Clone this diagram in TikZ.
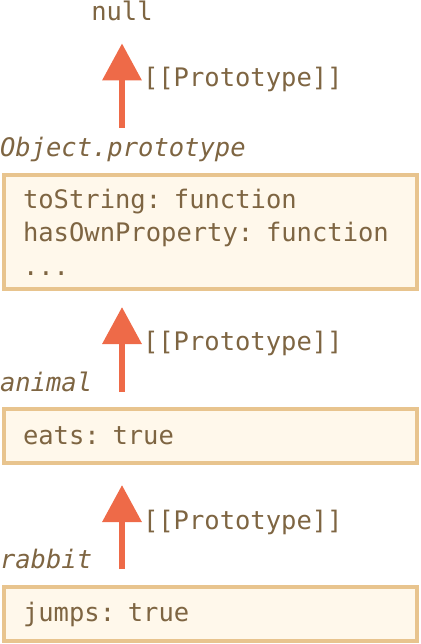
\documentclass[tikz,border=0pt]{standalone}
\usepackage{fontspec}
\setmonofont{DejaVu Sans Mono}
\usetikzlibrary{arrows.meta}
\definecolor{boxline}{HTML}{E8C48E}
\definecolor{boxfill}{HTML}{FFF8EB}
\definecolor{codetext}{HTML}{7E6542}
\definecolor{arrowred}{HTML}{EE6A48}
\begin{document}
\begin{tikzpicture}
   [
     x                  = 1bp,
     y                  = -1bp,
     every node/.style  = {font=\ttfamily\fontsize{25.5bp}{33.5bp}\selectfont,
     text=codetext, inner sep=0pt, outer sep=0pt},
     objbox/.style      = {draw=boxline, line width=4bp, fill=boxfill,
     anchor=north west, inner xsep=19bp, text width=375bp, align=left},
     objname/.style     = {anchor=base west,
     font=\ttfamily\itshape\fontsize{25.5bp}{30bp}\selectfont},
     protolabel/.style  = {anchor=base west},
     protoarrow/.style  = {draw=arrowred, line width=6.5bp,
     -{Triangle[width=38bp, length=37bp]}}
   ]
    \useasboundingbox (0,0) rectangle (420,644);
    \node [anchor=base] (null) at (122,21) {null};
    % objects
    \node [objname] (objname) at (0,157) {Object.prototype};
    \node [objbox, minimum height=114bp] (objbox) at (4,175)
      {toString: function\\hasOwnProperty: function\\...};
    \node [objname] (animalname) at (0,391) {animal};
    \node [objbox, minimum height=54bp] (animalbox) at (4,409) {eats: true};
    \node [objname] (rabbitname) at (0,568) {rabbit};
    \node [objbox, minimum height=54bp] (rabbitbox) at (4,587) {jumps: true};
    % links
    \draw [protoarrow, shorten <=47bp, shorten >=22bp]
      (objbox.north -| null.south) -- (null.south);
    \draw [protoarrow, shorten <=17bp, shorten >=18bp]
      (animalbox.north -| null.south) -- (objbox.south -| null.south);
    \draw [protoarrow, shorten <=18bp, shorten >=22bp]
      (rabbitbox.north -| null.south) -- (animalbox.south -| null.south);
    \node [protolabel] (proto1) at (143,87) {[[Prototype]]};
    \node [protolabel] (proto2) at (143,350) {[[Prototype]]};
    \node [protolabel] (proto3) at (143,529) {[[Prototype]]};
\end{tikzpicture}
\end{document}
